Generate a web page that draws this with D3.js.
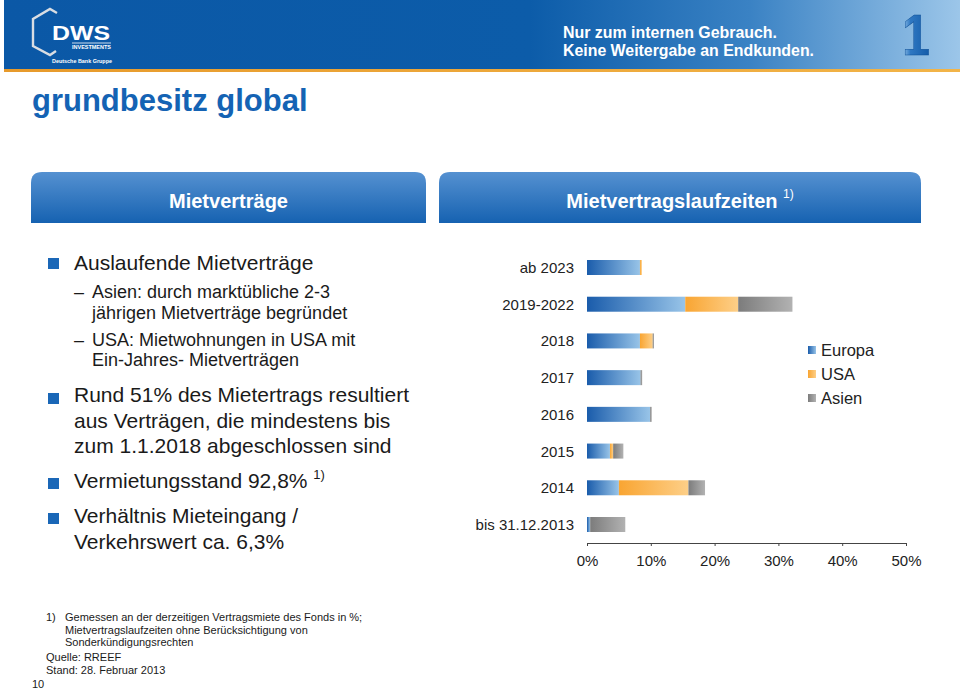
<!DOCTYPE html>
<html><head><meta charset="utf-8">
<script src="https://cdn.jsdelivr.net/npm/d3@7"></script>
<style>
html,body{margin:0;padding:0;background:#fff;}
svg{display:block;font-family:"Liberation Sans",Arial,sans-serif;}
</style></head>
<body>
<svg id="c" width="960" height="698"></svg>
<script>
// ---- data ----
const categories = ["ab 2023","2019-2022","2018","2017","2016","2015","2014","bis 31.12.2013"];
const europa = [8.3, 15.4, 8.3, 8.4, 9.9, 3.6, 5.0, 0.5];
const usa    = [0.3, 8.3, 2.0, 0, 0, 0.5, 10.9, 0];
const asien  = [0, 8.5, 0.2, 0.25, 0.25, 1.6, 2.6, 5.5];
const seriesNames = ["Europa","USA","Asien"];
const xTicks = [0,10,20,30,40,50];

const svg = d3.select("#c");
const defs = svg.append("defs");

function lin(id, x2, y2, stops){
  const g = defs.append("linearGradient").attr("id", id).attr("x1",0).attr("y1",0).attr("x2",x2).attr("y2",y2);
  stops.forEach(s => g.append("stop").attr("offset", s[0]).attr("stop-color", s[1]));
}
lin("gHead",1,0,[[0,"#0b58a6"],[0.55,"#0c5ca9"],[0.78,"#3a82c4"],[1,"#9cc6e9"]]);
lin("gOr",1,0,[[0,"#e79a2b"],[1,"#f2b448"]]);
lin("gTab",0,1,[[0,"#5591d1"],[1,"#1662b1"]]);
lin("gEu",1,0,[[0,"#1a5cab"],[1,"#98c4e8"]]);
lin("gUs",1,0,[[0,"#f9a532"],[1,"#fdcf88"]]);
lin("gAs",1,0,[[0,"#7c7c7c"],[1,"#b2b2b2"]]);
lin("gOne",1,0,[[0,"#9cc8ee"],[0.3,"#2f78c2"],[1,"#125aa8"]]);
const fills = {"Europa":"url(#gEu)","USA":"url(#gUs)","Asien":"url(#gAs)"};

// ---- header ----
svg.append("rect").attr("x",4).attr("y",0).attr("width",956).attr("height",69).attr("fill","url(#gHead)");
svg.append("rect").attr("x",4).attr("y",69).attr("width",956).attr("height",3).attr("fill","url(#gOr)");
// logo
svg.append("path").attr("d","M57,13 L50,9 L33,19 L33,46 L50,55 L56,51")
  .attr("fill","none").attr("stroke","#d9dde3").attr("stroke-width",2.4);
svg.append("text").attr("x",52).attr("y",40).attr("fill","#fff").attr("font-weight","bold")
  .attr("font-size",20).attr("textLength",58).attr("lengthAdjust","spacingAndGlyphs").text("DWS");
svg.append("line").attr("x1",72).attr("x2",111).attr("y1",43).attr("y2",43).attr("stroke","#fff").attr("stroke-width",0.8);
svg.append("text").attr("x",72).attr("y",48.8).attr("fill","#fff").attr("font-weight","bold")
  .attr("font-size",5).attr("textLength",39).attr("lengthAdjust","spacingAndGlyphs").text("INVESTMENTS");
svg.append("text").attr("x",52).attr("y",62.5).attr("fill","#fff").attr("font-weight","bold")
  .attr("font-size",5.5).attr("textLength",60).attr("lengthAdjust","spacingAndGlyphs").text("Deutsche Bank Gruppe");
svg.append("text").attr("x",563).attr("y",38).attr("fill","#fff").attr("font-weight","bold").attr("font-size",16)
  .attr("textLength",214).attr("lengthAdjust","spacingAndGlyphs").text("Nur zum internen Gebrauch.");
svg.append("text").attr("x",563).attr("y",55.5).attr("fill","#fff").attr("font-weight","bold").attr("font-size",16)
  .attr("textLength",251).attr("lengthAdjust","spacingAndGlyphs").text("Keine Weitergabe an Endkunden.");
svg.append("text").attr("x",902).attr("y",55).attr("fill","url(#gOne)").attr("stroke","#0f4f96").attr("stroke-width",0.5)
  .attr("font-weight","bold").attr("font-size",58).attr("textLength",28).attr("lengthAdjust","spacingAndGlyphs").text("1");

// title
svg.append("text").attr("x",32).attr("y",111).attr("fill","#1463b4").attr("font-weight","bold").attr("font-size",31)
  .text("grundbesitz global");

// tabs
function tab(x,w){
  const y=172,h=51,r=11;
  svg.append("path").attr("d",`M${x},${y+h} L${x},${y+r} Q${x},${y} ${x+r},${y} L${x+w-r},${y} Q${x+w},${y} ${x+w},${y+r} L${x+w},${y+h} Z`)
    .attr("fill","url(#gTab)");
}
tab(31,395);
tab(439,482);
svg.append("text").attr("x",228.5).attr("y",208).attr("text-anchor","middle").attr("fill","#fff")
  .attr("font-weight","bold").attr("font-size",20).text("Mietverträge");
const t2 = svg.append("text").attr("x",680).attr("y",208).attr("text-anchor","middle").attr("fill","#fff")
  .attr("font-weight","bold").attr("font-size",20);
t2.append("tspan").text("Mietvertragslaufzeiten ");
t2.append("tspan").attr("font-size",12).attr("font-weight","normal").attr("dy",-10).text("1)");

// ---- left text ----
const txt = "#1a1a1a";
function bullet(y){ svg.append("rect").attr("x",48).attr("y",y).attr("width",11).attr("height",11).attr("fill","#1a67b7"); }
function line(x,y,s,size){ return svg.append("text").attr("x",x).attr("y",y).attr("fill",txt).attr("font-size",size).text(s); }
bullet(258); line(74,270,"Auslaufende Mietverträge",21);
line(74,298,"–",18); line(92,298,"Asien: durch marktübliche 2-3",18);
line(92,319,"jährigen Mietverträge begründet",18);
line(74,346,"–",18); line(92,346,"USA: Mietwohnungen in USA mit",18);
line(92,366,"Ein-Jahres- Mietverträgen",18);
bullet(393); line(74,402,"Rund 51% des Mietertrags resultiert",21);
line(74,428,"aus Verträgen, die mindestens bis",21);
line(74,453,"zum 1.1.2018 abgeschlossen sind",21);
bullet(478);
const vt = line(74,488,"Vermietungsstand 92,8% ",21);
vt.append("tspan").attr("font-size",13).attr("dy",-9).text("1)");
bullet(513); line(74,523,"Verhältnis Mieteingang /",21);
line(74,549,"Verkehrswert ca. 6,3%",21);

// ---- chart ----
const x = d3.scaleLinear().domain([0,50]).range([587,906]);
const y = d3.scalePoint().domain(categories).range([267.5,524.5]);
const barH = 15;
const rows = categories.map((c,i)=>({cat:c, Europa:europa[i], USA:usa[i], Asien:asien[i]}));
const stacked = d3.stack().keys(seriesNames)(rows);

const gBars = svg.append("g");
stacked.forEach(s=>{
  gBars.selectAll(null).data(s.filter(d=>d[1]-d[0]>0)).enter().append("rect")
    .attr("x",d=>x(d[0])).attr("width",d=>x(d[1])-x(d[0]))
    .attr("y",d=>y(d.data.cat)-barH/2).attr("height",barH)
    .attr("fill",fills[s.key]);
});

// category labels
svg.append("g").selectAll("text").data(categories).enter().append("text")
  .attr("x",574).attr("y",d=>y(d)+5.5).attr("text-anchor","end")
  .attr("fill","#222").attr("font-size",15).text(d=>d);

// x axis
const axis = d3.axisBottom(x).tickValues(xTicks).tickFormat(d=>d+"%").tickSize(3).tickSizeOuter(0).tickPadding(9);
const ga = svg.append("g").attr("transform","translate(0,543)").call(axis);
ga.select(".domain").attr("stroke","#444");
ga.selectAll(".tick line").attr("stroke","#444");
ga.selectAll(".tick text").attr("fill","#222").attr("font-size",15).attr("font-family","Liberation Sans, Arial, sans-serif");

// legend
const lg = svg.append("g");
seriesNames.forEach((n,i)=>{
  lg.append("rect").attr("x",808).attr("y",346+i*24).attr("width",8).attr("height",8).attr("fill",fills[n]);
  lg.append("text").attr("x",821).attr("y",355.5+i*24).attr("fill","#222").attr("font-size",16.5).text(n);
});

// ---- footnotes ----
const fs = 11;
line(46,621,"1)",fs);
line(65,621,"Gemessen an der derzeitigen Vertragsmiete des Fonds in %;",fs);
line(65,633.5,"Mietvertragslaufzeiten ohne Berücksichtigung von",fs);
line(65,646,"Sonderkündigungsrechten",fs);
line(46,661,"Quelle: RREEF",fs);
line(46,674,"Stand: 28. Februar 2013",fs);
line(32,688,"10",fs);
</script>
</body></html>
